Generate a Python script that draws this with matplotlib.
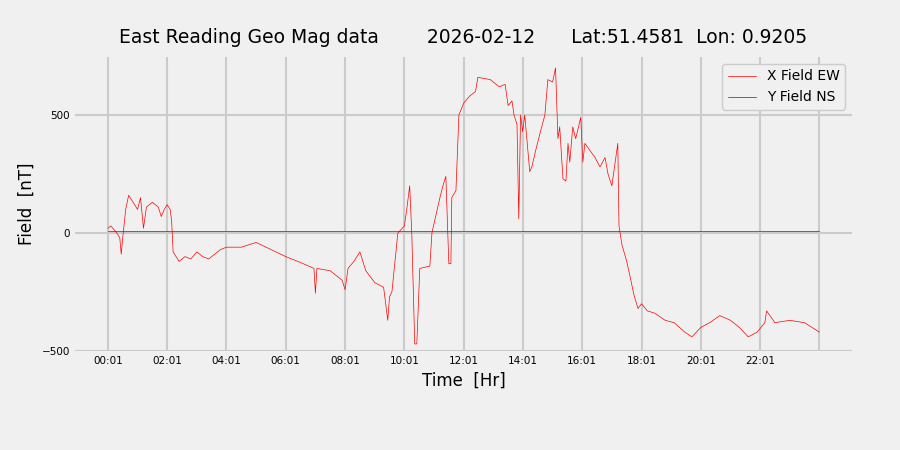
import matplotlib
matplotlib.use("Agg")
import matplotlib.pyplot as plt

hours = [0.0,0.1,0.3,0.4,0.45,0.5,0.6,0.7,0.85,1.0,1.1,1.2,1.3,1.5,1.7,1.8,1.9,2.0,2.1,2.15,2.2,2.4,2.6,2.8,3.0,3.2,3.4,3.6,3.8,4.0,4.5,5.0,5.5,6.0,6.5,6.95,7.0,7.05,7.5,7.9,8.0,8.1,8.3,8.5,8.7,9.0,9.3,9.44,9.5,9.58,9.78,10.0,10.08,10.18,10.25,10.35,10.42,10.52,10.86,10.93,11.0,11.2,11.3,11.4,11.5,11.57,11.6,11.74,11.84,12.0,12.2,12.4,12.48,12.9,13.2,13.4,13.5,13.63,13.7,13.8,13.86,13.92,13.99,14.06,14.23,14.3,14.43,14.57,14.74,14.84,15.0,15.1,15.18,15.24,15.35,15.45,15.52,15.58,15.68,15.78,15.95,16.02,16.09,16.26,16.43,16.6,16.77,16.87,17.0,17.2,17.24,17.34,17.5,17.64,17.74,17.88,18.0,18.2,18.45,18.8,19.1,19.46,19.7,20.0,20.3,20.64,21.0,21.3,21.6,21.9,22.16,22.22,22.5,23.0,23.5,23.75,24.0]
x_field = [20,30,0,-20,-90,-20,100,160,130,100,150,20,110,130,110,70,100,120,100,50,-80,-120,-100,-110,-80,-100,-110,-90,-70,-60,-60,-40,-70,-100,-125,-150,-255,-150,-160,-200,-240,-150,-120,-80,-160,-210,-230,-370,-270,-250,0,30,100,200,0,-470,-470,-150,-140,0,40,150,200,240,-130,-130,150,180,500,550,580,600,660,650,620,630,540,560,500,460,60,500,430,500,260,280,350,420,500,650,640,700,400,450,230,220,380,300,450,400,490,300,380,350,320,280,320,250,200,380,30,-50,-120,-200,-260,-320,-300,-330,-340,-370,-380,-420,-440,-400,-380,-350,-370,-400,-440,-420,-380,-330,-380,-370,-380,-400,-420]
y_hours = [0.0, 24.0]
y_field = [10, 10]
tick_pos = [0,2,4,6,8,10,12,14,16,18,20,22,24]
tick_labels = ["00:01","02:01","04:01","06:01","08:01","10:01","12:01","14:01","16:01","18:01","20:01","22:01",""]

bg = "#f0f0f0"
fig = plt.figure(figsize=(9,4.5), dpi=100, facecolor=bg)
ax = fig.add_axes([75/900, 1-351/450, (852-75)/900, (351-57)/450], facecolor=bg)
ax.plot(hours, x_field, color="red", lw=0.5, label="X Field EW")
ax.plot(y_hours, y_field, color="#333333", lw=0.5, label="Y Field NS")
ax.set_xlim(-1.11, 25.1)
ax.set_ylim(-500, 746)
ax.set_xticks(tick_pos)
ax.set_xticklabels(tick_labels, fontsize=7.5)
ax.set_yticks([-500,0,500])
ax.tick_params(axis='y', labelsize=7.5)
ax.tick_params(length=0)
ax.grid(True, color="#cbcbcb", lw=1.5)
for s in ax.spines.values():
    s.set_visible(False)
ax.set_axisbelow(True)
ax.set_xlabel("Time  [Hr]", fontsize=12)
ax.set_ylabel("Field  [nT]", fontsize=12)
ax.set_title("East Reading Geo Mag data        2026-02-12      Lat:51.4581  Lon: 0.9205", fontsize=13.5, pad=10)
ax.legend(loc="upper right", fontsize=10, facecolor=bg, framealpha=1, edgecolor="#cccccc")
fig.savefig("out.png", dpi=100, facecolor=bg)
